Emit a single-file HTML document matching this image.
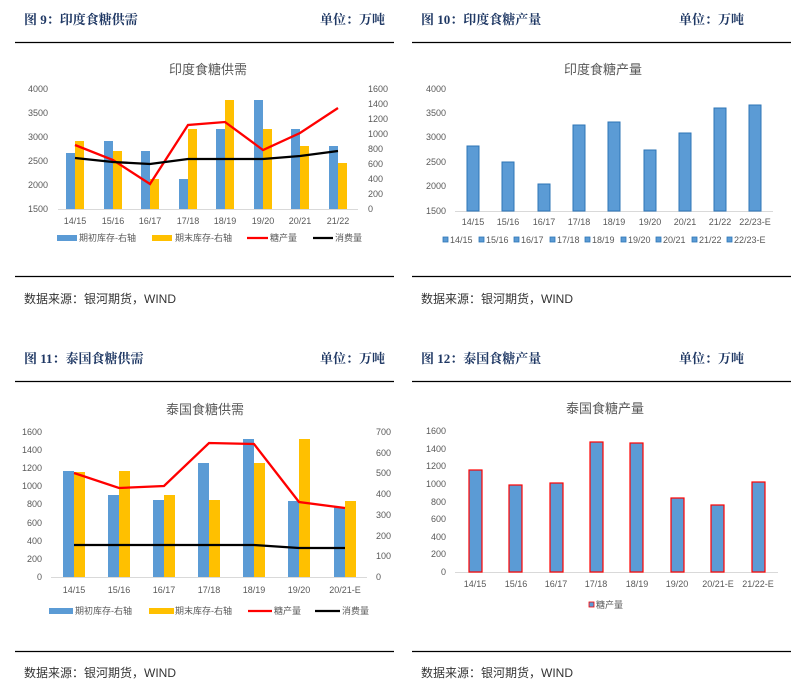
<!DOCTYPE html>
<html><head><meta charset="utf-8"><style>
html,body{margin:0;padding:0;background:#fff;}
svg{display:block;font-family:"Liberation Sans","Noto Sans CJK SC",sans-serif;}
.h{font-weight:bold;font-size:13px;fill:#1f3864;font-family:"Liberation Serif","Noto Serif CJK SC",serif;}
.s{font-size:12px;fill:#333;}
.t{font-size:13px;fill:#595959;}
.ax{font-size:9px;fill:#595959;}
.lg{font-size:9px;fill:#595959;}
</style></head><body>
<svg width="809" height="693" viewBox="0 0 809 693">
<!-- headers -->
<text class="h" x="24" y="24">图 9：印度食糖供需</text>
<text class="h" x="320" y="24">单位：万吨</text>
<text class="h" x="421" y="24">图 10：印度食糖产量</text>
<text class="h" x="679" y="24">单位：万吨</text>
<line x1="15" y1="42.5" x2="394" y2="42.5" stroke="#000" stroke-width="1.3"/>
<line x1="412" y1="42.5" x2="791" y2="42.5" stroke="#000" stroke-width="1.3"/>
<line x1="15" y1="276.5" x2="394" y2="276.5" stroke="#000" stroke-width="1.3"/>
<line x1="412" y1="276.5" x2="791" y2="276.5" stroke="#000" stroke-width="1.3"/>
<text class="s" x="24" y="303">数据来源：银河期货，WIND</text>
<text class="s" x="421" y="303">数据来源：银河期货，WIND</text>

<text class="h" x="24" y="363">图 11：泰国食糖供需</text>
<text class="h" x="320" y="363">单位：万吨</text>
<text class="h" x="421" y="363">图 12：泰国食糖产量</text>
<text class="h" x="679" y="363">单位：万吨</text>
<line x1="15" y1="381.5" x2="394" y2="381.5" stroke="#000" stroke-width="1.3"/>
<line x1="412" y1="381.5" x2="791" y2="381.5" stroke="#000" stroke-width="1.3"/>
<line x1="15" y1="651.5" x2="394" y2="651.5" stroke="#000" stroke-width="1.3"/>
<line x1="412" y1="651.5" x2="791" y2="651.5" stroke="#000" stroke-width="1.3"/>
<text class="s" x="24" y="677">数据来源：银河期货，WIND</text>
<text class="s" x="421" y="677">数据来源：银河期货，WIND</text>

<!-- Chart 1 -->
<text class="t" x="208" y="74" text-anchor="middle">印度食糖供需</text>
<g class="ax" text-anchor="end">
<text x="48" y="92">4000</text><text x="48" y="116">3500</text><text x="48" y="140">3000</text><text x="48" y="164">2500</text><text x="48" y="188">2000</text><text x="48" y="212">1500</text>
</g>
<g class="ax">
<text x="368" y="92">1600</text><text x="368" y="107">1400</text><text x="368" y="122">1200</text><text x="368" y="137">1000</text><text x="368" y="152">800</text><text x="368" y="167">600</text><text x="368" y="182">400</text><text x="368" y="197">200</text><text x="368" y="212">0</text>
</g>
<line x1="58" y1="209.5" x2="358" y2="209.5" stroke="#d9d9d9"/>
<g fill="#5b9bd5">
<rect x="66" y="153" width="9" height="56"/><rect x="104" y="141" width="9" height="68"/><rect x="141" y="151" width="9" height="58"/><rect x="179" y="179" width="9" height="30"/><rect x="216" y="129" width="9" height="80"/><rect x="254" y="100" width="9" height="109"/><rect x="291" y="129" width="9" height="80"/><rect x="329" y="146" width="9" height="63"/>
</g>
<g fill="#ffc000">
<rect x="75" y="141" width="9" height="68"/><rect x="113" y="151" width="9" height="58"/><rect x="150" y="179" width="9" height="30"/><rect x="188" y="129" width="9" height="80"/><rect x="225" y="100" width="9" height="109"/><rect x="263" y="129" width="9" height="80"/><rect x="300" y="146" width="9" height="63"/><rect x="338" y="163" width="9" height="46"/>
</g>
<polyline points="75,145 113,160 150,184 188,125 225,122 263,150 300,133 338,108" fill="none" stroke="#ff0000" stroke-width="2.3"/>
<polyline points="75,158 113,162 150,164 188,159 225,159 263,159 300,156 338,151" fill="none" stroke="#000" stroke-width="2.3"/>
<g class="ax" text-anchor="middle">
<text x="75" y="224">14/15</text><text x="113" y="224">15/16</text><text x="150" y="224">16/17</text><text x="188" y="224">17/18</text><text x="225" y="224">18/19</text><text x="263" y="224">19/20</text><text x="300" y="224">20/21</text><text x="338" y="224">21/22</text>
</g>
<rect x="57" y="235" width="20" height="6" fill="#5b9bd5"/><text class="lg" x="79" y="241">期初库存-右轴</text>
<rect x="152" y="235" width="20" height="6" fill="#ffc000"/><text class="lg" x="175" y="241">期末库存-右轴</text>
<line x1="247" y1="238" x2="268" y2="238" stroke="#ff0000" stroke-width="2.3"/><text class="lg" x="270" y="241">糖产量</text>
<line x1="313" y1="238" x2="333" y2="238" stroke="#000" stroke-width="2.3"/><text class="lg" x="335" y="241">消费量</text>

<!-- Chart 2 -->
<text class="t" x="603" y="74" text-anchor="middle">印度食糖产量</text>
<g class="ax" text-anchor="end">
<text x="446" y="92">4000</text><text x="446" y="116">3500</text><text x="446" y="140">3000</text><text x="446" y="165">2500</text><text x="446" y="189">2000</text><text x="446" y="214">1500</text>
</g>
<line x1="455" y1="211.5" x2="773" y2="211.5" stroke="#d9d9d9"/>
<g fill="#5b9bd5" stroke="#2e75b6" stroke-width="1">
<rect x="467" y="146" width="12" height="65"/><rect x="502" y="162" width="12" height="49"/><rect x="538" y="184" width="12" height="27"/><rect x="573" y="125" width="12" height="86"/><rect x="608" y="122" width="12" height="89"/><rect x="644" y="150" width="12" height="61"/><rect x="679" y="133" width="12" height="78"/><rect x="714" y="108" width="12" height="103"/><rect x="749" y="105" width="12" height="106"/>
</g>
<g class="ax" text-anchor="middle">
<text x="473" y="225">14/15</text><text x="508" y="225">15/16</text><text x="544" y="225">16/17</text><text x="579" y="225">17/18</text><text x="614" y="225">18/19</text><text x="650" y="225">19/20</text><text x="685" y="225">20/21</text><text x="720" y="225">21/22</text><text x="755" y="225">22/23-E</text>
</g>
<g fill="#5b9bd5" stroke="#2e75b6" stroke-width="0.8">
<rect x="443" y="237" width="5" height="5"/><rect x="479" y="237" width="5" height="5"/><rect x="514" y="237" width="5" height="5"/><rect x="550" y="237" width="5" height="5"/><rect x="585" y="237" width="5" height="5"/><rect x="621" y="237" width="5" height="5"/><rect x="656" y="237" width="5" height="5"/><rect x="692" y="237" width="5" height="5"/><rect x="727" y="237" width="5" height="5"/>
</g>
<g class="lg">
<text x="450" y="243">14/15</text><text x="486" y="243">15/16</text><text x="521" y="243">16/17</text><text x="557" y="243">17/18</text><text x="592" y="243">18/19</text><text x="628" y="243">19/20</text><text x="663" y="243">20/21</text><text x="699" y="243">21/22</text><text x="734" y="243">22/23-E</text>
</g>

<!-- Chart 3 -->
<text class="t" x="205" y="414" text-anchor="middle">泰国食糖供需</text>
<g class="ax" text-anchor="end">
<text x="42" y="435">1600</text><text x="42" y="453">1400</text><text x="42" y="471">1200</text><text x="42" y="489">1000</text><text x="42" y="507">800</text><text x="42" y="526">600</text><text x="42" y="544">400</text><text x="42" y="562">200</text><text x="42" y="580">0</text>
</g>
<g class="ax">
<text x="376" y="435">700</text><text x="376" y="456">600</text><text x="376" y="476">500</text><text x="376" y="497">400</text><text x="376" y="518">300</text><text x="376" y="539">200</text><text x="376" y="559">100</text><text x="376" y="580">0</text>
</g>
<line x1="51" y1="577.5" x2="367" y2="577.5" stroke="#d9d9d9"/>
<g fill="#5b9bd5">
<rect x="63" y="471" width="11" height="106"/><rect x="108" y="495" width="11" height="82"/><rect x="153" y="500" width="11" height="77"/><rect x="198" y="463" width="11" height="114"/><rect x="243" y="439" width="11" height="138"/><rect x="288" y="501" width="11" height="76"/><rect x="334" y="507" width="11" height="70"/>
</g>
<g fill="#ffc000">
<rect x="74" y="472" width="11" height="105"/><rect x="119" y="471" width="11" height="106"/><rect x="164" y="495" width="11" height="82"/><rect x="209" y="500" width="11" height="77"/><rect x="254" y="463" width="11" height="114"/><rect x="299" y="439" width="11" height="138"/><rect x="345" y="501" width="11" height="76"/>
</g>
<polyline points="74,473 119,488 164,486 209,443 254,444 299,502 345,508" fill="none" stroke="#ff0000" stroke-width="2.3"/>
<polyline points="74,545 119,545 164,545 209,545 254,545 299,548 345,548" fill="none" stroke="#000" stroke-width="2.3"/>
<g class="ax" text-anchor="middle">
<text x="74" y="593">14/15</text><text x="119" y="593">15/16</text><text x="164" y="593">16/17</text><text x="209" y="593">17/18</text><text x="254" y="593">18/19</text><text x="299" y="593">19/20</text><text x="345" y="593">20/21-E</text>
</g>
<rect x="49" y="608" width="24" height="6" fill="#5b9bd5"/><text class="lg" x="75" y="614">期初库存-右轴</text>
<rect x="149" y="608" width="25" height="6" fill="#ffc000"/><text class="lg" x="175" y="614">期末库存-右轴</text>
<line x1="248" y1="611" x2="272" y2="611" stroke="#ff0000" stroke-width="2.3"/><text class="lg" x="274" y="614">糖产量</text>
<line x1="315" y1="611" x2="340" y2="611" stroke="#000" stroke-width="2.3"/><text class="lg" x="342" y="614">消费量</text>

<!-- Chart 4 -->
<text class="t" x="605" y="413" text-anchor="middle">泰国食糖产量</text>
<g class="ax" text-anchor="end">
<text x="446" y="434">1600</text><text x="446" y="452">1400</text><text x="446" y="469">1200</text><text x="446" y="487">1000</text><text x="446" y="505">800</text><text x="446" y="522">600</text><text x="446" y="540">400</text><text x="446" y="557">200</text><text x="446" y="575">0</text>
</g>
<line x1="455" y1="572.5" x2="778" y2="572.5" stroke="#d9d9d9"/>
<g fill="#5b9bd5" stroke="#ff0000" stroke-width="1.2">
<rect x="469" y="470" width="13" height="102"/><rect x="509" y="485" width="13" height="87"/><rect x="550" y="483" width="13" height="89"/><rect x="590" y="442" width="13" height="130"/><rect x="630" y="443" width="13" height="129"/><rect x="671" y="498" width="13" height="74"/><rect x="711" y="505" width="13" height="67"/><rect x="752" y="482" width="13" height="90"/>
</g>
<g class="ax" text-anchor="middle">
<text x="475" y="587">14/15</text><text x="516" y="587">15/16</text><text x="556" y="587">16/17</text><text x="596" y="587">17/18</text><text x="637" y="587">18/19</text><text x="677" y="587">19/20</text><text x="718" y="587">20/21-E</text><text x="758" y="587">21/22-E</text>
</g>
<rect x="589" y="602" width="5" height="5" fill="#5b9bd5" stroke="#ff0000" stroke-width="0.8"/><text class="lg" x="596" y="608">糖产量</text>
</svg>
</body></html>
